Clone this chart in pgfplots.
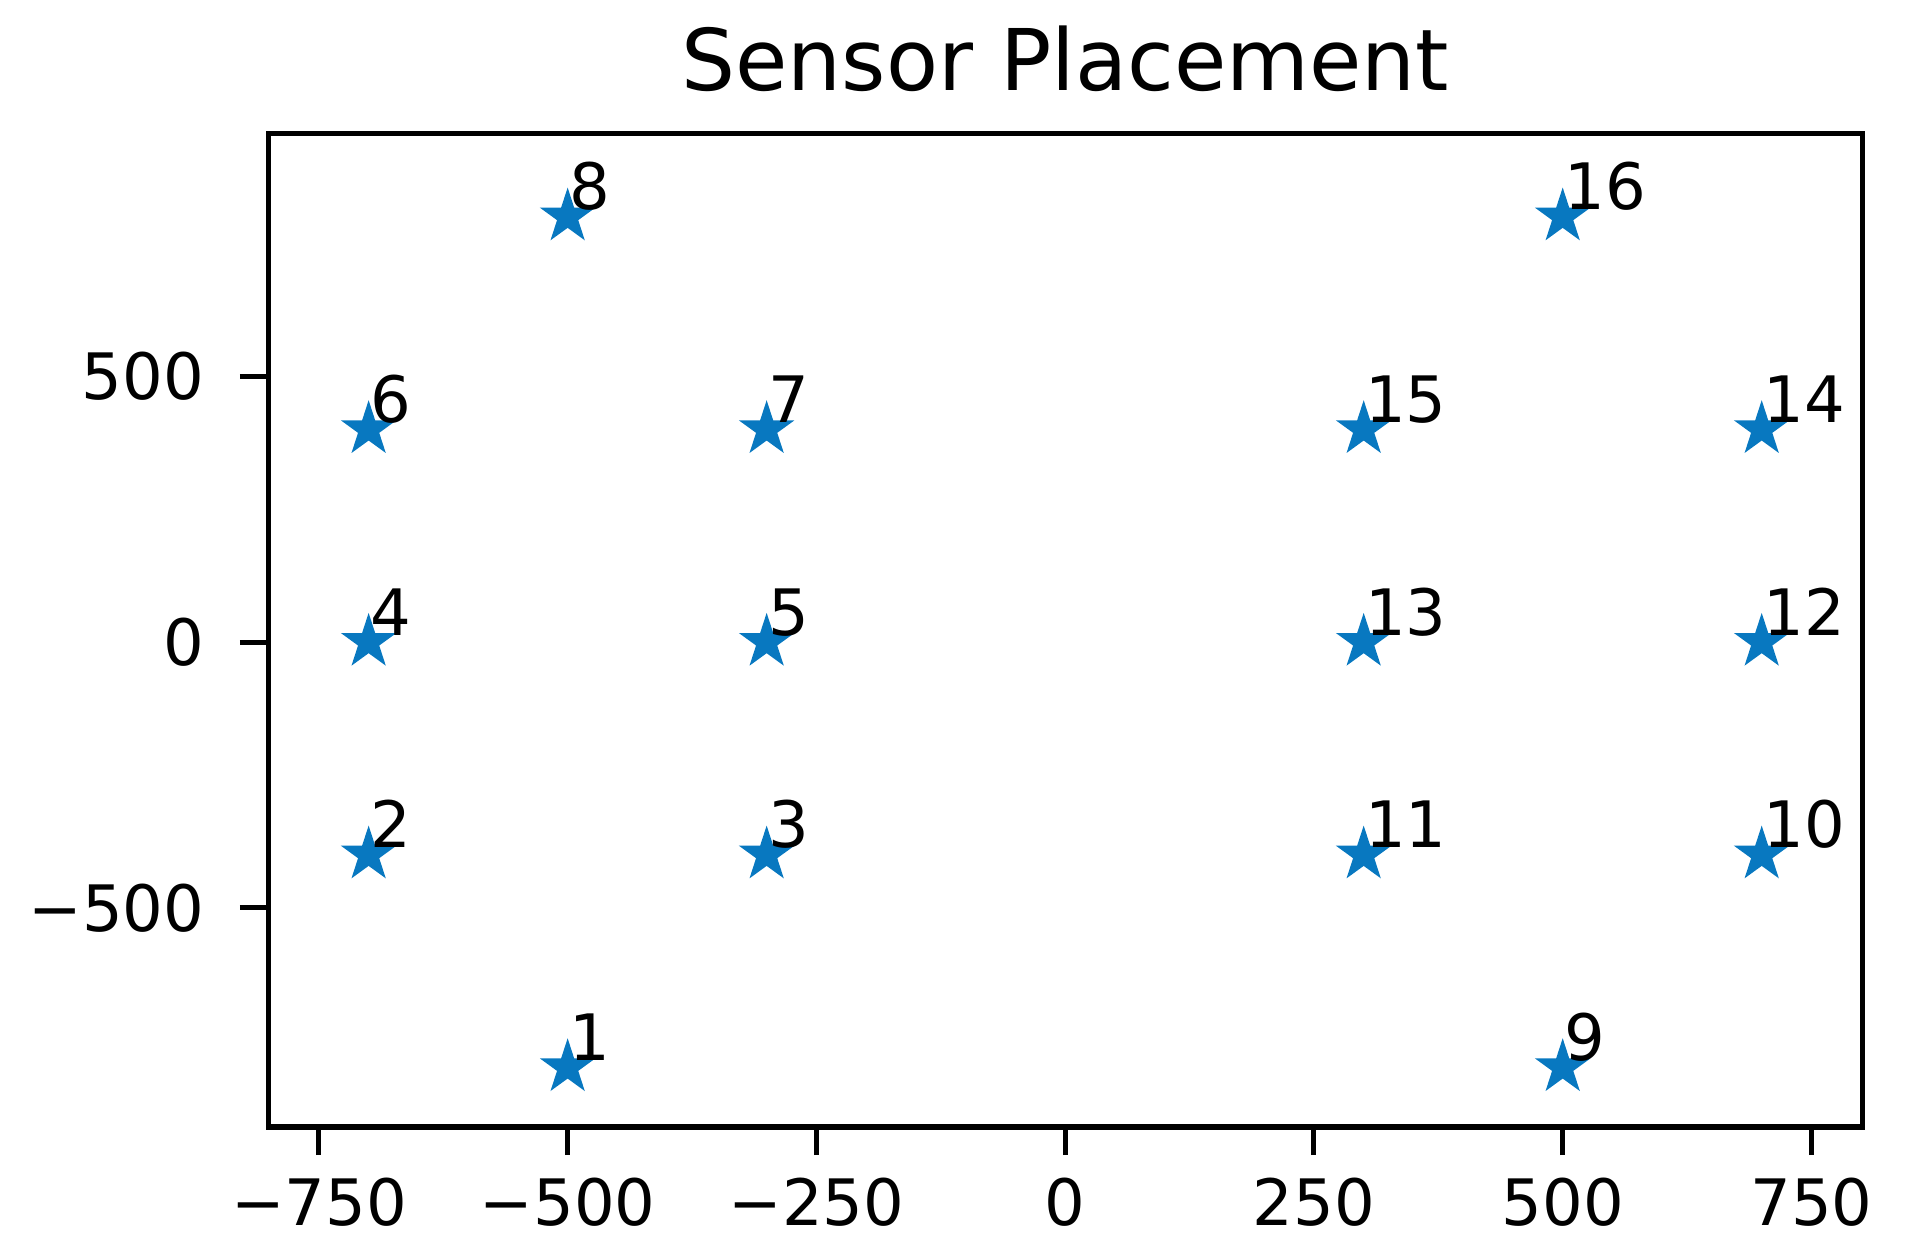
\documentclass[border=0pt]{standalone}
\usepackage{pgfplots}
\pgfplotsset{compat=1.18}
\usepackage{fontspec}
\setmainfont{DejaVu Sans}
\definecolor{starblue}{RGB}{8,120,192}
\pgfdeclareplotmark{fstar}{%
  \pgfpathmoveto{\pgfpointpolar{90}{\pgfplotmarksize}}%
  \pgfpathlineto{\pgfpointpolar{126}{0.382\pgfplotmarksize}}%
  \pgfpathlineto{\pgfpointpolar{162}{\pgfplotmarksize}}%
  \pgfpathlineto{\pgfpointpolar{198}{0.382\pgfplotmarksize}}%
  \pgfpathlineto{\pgfpointpolar{234}{\pgfplotmarksize}}%
  \pgfpathlineto{\pgfpointpolar{270}{0.382\pgfplotmarksize}}%
  \pgfpathlineto{\pgfpointpolar{306}{\pgfplotmarksize}}%
  \pgfpathlineto{\pgfpointpolar{342}{0.382\pgfplotmarksize}}%
  \pgfpathlineto{\pgfpointpolar{18}{\pgfplotmarksize}}%
  \pgfpathlineto{\pgfpointpolar{54}{0.382\pgfplotmarksize}}%
  \pgfpathclose
  \pgfusepathqfillstroke
}
\begin{document}
\begin{tikzpicture}
\useasboundingbox (-41.9pt,-20.3pt) rectangle (256.4pt,176.1pt);
\begin{axis}[
  at={(0,0)}, anchor=south west,
  scale only axis,
  width=249.1pt, height=155.2pt,
  xmin=-801, xmax=801, ymin=-912, ymax=956,
  axis line style={line width=0.8pt},
  tick style={line width=0.8pt, black},
  tick align=outside,
  major tick length=4.4pt,
  xtick={-750,-500,-250,0,250,500,750},
  xticklabels={−750,−500,−250,0,250,500,750},
  ytick={-500,0,500},
  yticklabels={−500,0,500},
  xtick pos=bottom, ytick pos=left,
  xticklabel style={font=\fontsize{10}{12}\selectfont, anchor=north, inner sep=0pt},
  yticklabel style={font=\fontsize{10}{12}\selectfont, anchor=east, inner sep=0pt},
  xticklabel shift=3.4pt,
  yticklabel shift=5.4pt,
  title={Sensor Placement},
  title style={font=\fontsize{13.3}{16}\selectfont, at={(0.5,1)}, anchor=base, inner sep=0pt, yshift=0.7pt},
]
\addplot[only marks, mark=fstar, mark size=3.75pt, color=starblue, line width=0.5pt,
  nodes near coords, point meta=explicit symbolic,
  every node near coord/.append style={anchor=base west, inner sep=0pt, text=black, font=\fontsize{10}{12}\selectfont, yshift=1.1pt}]
table[meta=label] {
x y label
-500 -800 1
-700 -400 2
-300 -400 3
-700 0 4
-300 0 5
-700 400 6
-300 400 7
-500 800 8
500 -800 9
700 -400 10
300 -400 11
700 0 12
300 0 13
700 400 14
300 400 15
500 800 16
};
\end{axis}
\end{tikzpicture}
\end{document}
